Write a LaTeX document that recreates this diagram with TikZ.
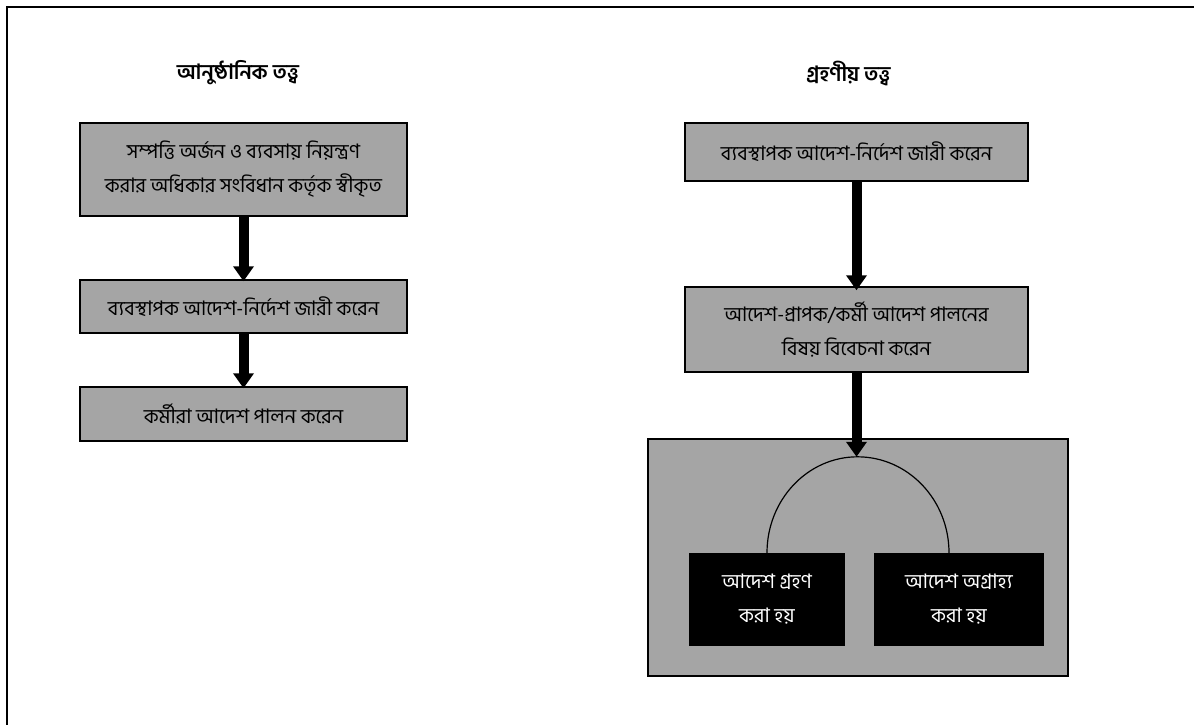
\documentclass[tikz,border=0pt]{standalone}
\usepackage{fontspec}
\usetikzlibrary{arrows.meta}
\newfontfamily\bn[Script=Bengali]{Hind Siliguri}
\definecolor{boxgray}{RGB}{165,165,165}
\begin{document}
\begin{tikzpicture}[x=1pt,y=-1pt,
  graybox/.style={draw=black,line width=1.5pt,fill=boxgray,inner sep=0pt,align=center,font=\bn\fontsize{20}{34}\selectfont},
  blackbox/.style={draw=none,fill=black,text=white,inner sep=0pt,align=center,font=\bn\fontsize{20}{34}\selectfont},
  titletext/.style={font=\bn\bfseries\fontsize{21}{25}\selectfont},
  bigarrow/.style={line width=10pt,-{Triangle[width=20pt,length=15pt]}}]
\useasboundingbox (0,0) rectangle (1194,724);
\draw[line width=2pt] (6.5,730) -- (6.5,6.5) -- (1200,6.5);
% titles
\node[titletext] (t1) at (238,73) {আনুষ্ঠানিক তত্ত্ব};
\node[titletext] (t2) at (848.5,73) {গ্রহণীয় তত্ত্ব};
% left column
\node[graybox,minimum width=327pt,minimum height=93pt] (l1) at (243.5,169.5) {সম্পত্তি অর্জন ও ব্যবসায় নিয়ন্ত্রণ\\করার অধিকার সংবিধান কর্তৃক স্বীকৃত};
\node[graybox,minimum width=327pt,minimum height=53pt] (l2) at (243.5,306.5) {ব্যবস্থাপক আদেশ-নির্দেশ জারী করেন};
\node[graybox,minimum width=327pt,minimum height=54pt] (l3) at (243.5,414) {কর্মীরা আদেশ পালন করেন};
\draw[bigarrow] (l1.south) -- ([yshift=-2pt]l2.north);
\draw[bigarrow] (l2.south) -- ([yshift=-2pt]l3.north);
% right column
\node[graybox,minimum width=343pt,minimum height=58pt] (r1) at (856.5,152) {ব্যবস্থাপক আদেশ-নির্দেশ জারী করেন};
\node[graybox,minimum width=343pt,minimum height=85pt] (r2) at (856.5,329.5) {আদেশ-প্রাপক/কর্মী আদেশ পালনের\\বিষয় বিবেচনা করেন};
\node[graybox,minimum width=420pt,minimum height=237pt] (big) at (858,557.5) {};
\node[blackbox,minimum width=156pt,minimum height=93pt] (acc) at (767,599.5) {আদেশ গ্রহণ\\করা হয়};
\node[blackbox,minimum width=170pt,minimum height=93pt] (rej) at (959,599.5) {আদেশ অগ্রাহ্য\\করা হয়};
\draw[line width=1.2pt] (acc.north) arc[start angle=180,end angle=270,x radius=90.5,y radius=96] coordinate (arctop)
  arc[start angle=270,end angle=360,x radius=91.5,y radius=96] coordinate (arcend);
\draw[bigarrow] (r2.south) -- (r2.south |- arctop);
\draw[bigarrow] (r1.south) -- ([yshift=-4pt]r2.north);
\end{tikzpicture}
\end{document}
